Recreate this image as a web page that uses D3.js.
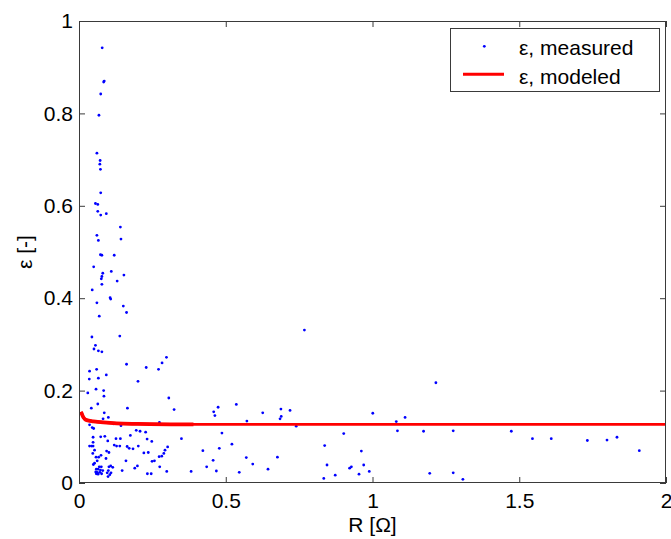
<!DOCTYPE html>
<html>
<head>
<meta charset="utf-8">
<script src="https://cdn.jsdelivr.net/npm/d3@7"></script>
<style>
  html, body { margin: 0; padding: 0; background: #fff; }
  svg { display: block; font-family: "Liberation Sans", Arial, sans-serif; }
</style>
</head>
<body>
<svg id="chart" width="671" height="539"></svg>
<script>
// ---------- data ----------
const measuredR = [
  0.079,0.086,0.084,0.074,0.068,0.061,0.072,0.071,0.073,
  0.074,0.056,0.064,0.064,0.074,0.093,0.141,0.061,0.066,0.143,0.073,0.078,0.120,0.050,0.081,0.110,0.153,0.078,0.076,0.130,0.078,0.045,0.106,0.108,0.061,0.151,0.162,0.069,
  0.044,0.139,0.056,0.051,0.066,0.078,0.298,0.283,0.162,0.229,0.271,0.060,0.036,0.093,0.035,0.066,0.201,0.058,0.084,0.030,0.306,0.085,0.064,0.042,0.165,0.324,0.086,0.100,0.082,0.274,0.118,0.143,0.036,0.045,0.050,0.195,0.208,0.227,0.175,0.074,0.048,0.088,0.126,0.141,0.232,0.098,0.248,0.048,0.139,0.120,0.036,0.043,0.048,0.128,0.164,0.202,0.302,0.171,0.184,0.053,0.094,0.293,0.289,0.047,0.221,0.236,0.102,0.282,0.273,0.075,0.058,0.067,0.092,0.062,0.257,0.249,0.160,0.049,0.053,0.069,0.076,0.108,0.102,0.115,0.199,0.190,0.275,0.059,0.065,0.073,0.081,0.100,0.147,0.057,0.062,0.071,0.096,0.109,0.077,0.105,0.059,0.299,0.233,0.246,0.099,0.065,
  0.474,0.459,0.463,0.536,0.626,0.688,0.719,0.689,0.685,0.572,0.740,0.768,0.349,0.487,0.521,0.478,0.422,0.457,0.435,0.468,0.382,0.546,0.570,0.592,0.676,0.644,0.837,0.902,0.845,0.873,0.834,0.962,0.922,0.928,0.970,0.954,0.989,1.001,1.081,1.111,1.085,
  1.216,1.174,1.275,1.473,1.545,1.609,1.732,1.799,1.833,1.909,1.195,1.275,1.308
];
const measuredEps = [
  0.942,0.870,0.868,0.842,0.796,0.714,0.698,0.690,0.679,
  0.628,0.605,0.603,0.588,0.580,0.583,0.554,0.536,0.525,0.528,0.494,0.493,0.493,0.468,0.454,0.458,0.450,0.447,0.442,0.437,0.430,0.418,0.401,0.398,0.390,0.383,0.369,0.361,
  0.316,0.318,0.298,0.290,0.286,0.284,0.272,0.260,0.257,0.250,0.246,0.246,0.242,0.234,0.225,0.227,0.220,0.203,0.200,0.195,0.184,0.188,0.171,0.162,0.162,0.159,0.152,0.142,0.139,0.131,0.128,0.124,0.126,0.120,0.118,0.114,0.112,0.110,0.103,0.100,0.099,0.101,0.096,0.096,0.095,0.091,0.090,0.088,0.080,0.082,0.080,0.080,0.080,0.080,0.079,0.080,0.078,0.075,0.074,0.071,0.069,0.071,0.064,0.064,0.065,0.066,0.066,0.058,0.057,0.060,0.056,0.056,0.053,0.048,0.048,0.047,0.048,0.040,0.043,0.035,0.035,0.037,0.035,0.034,0.037,0.032,0.035,0.030,0.030,0.028,0.027,0.027,0.027,0.024,0.023,0.023,0.022,0.022,0.020,0.018,0.020,0.025,0.020,0.020,0.014,0.019,
  0.164,0.154,0.146,0.170,0.152,0.160,0.157,0.144,0.139,0.134,0.123,0.331,0.096,0.108,0.084,0.075,0.070,0.049,0.035,0.026,0.025,0.023,0.055,0.041,0.056,0.030,0.081,0.107,0.039,0.017,0.010,0.069,0.032,0.035,0.039,0.019,0.025,0.151,0.133,0.142,0.113,
  0.217,0.112,0.113,0.112,0.096,0.096,0.092,0.093,0.099,0.070,0.021,0.022,0.008
];
const modeledR   = [0.007, 0.015, 0.026, 0.049, 0.083, 0.128, 0.2, 0.344, 0.39, 0.6, 1.0, 1.5, 2.0];
const modeledEps = [0.154, 0.142, 0.136, 0.1335, 0.131, 0.129, 0.128, 0.127, 0.127, 0.127, 0.127, 0.127, 0.127];
const xTicks = [0, 0.5, 1, 1.5, 2];
const yTicks = [0, 0.2, 0.4, 0.6, 0.8, 1];
const legendLabels = ["ε, measured", "ε, modeled"];

// ---------- layout ----------
const svg = d3.select("#chart");
const L = 79, R = 666, T = 21, B = 483;
const x = d3.scaleLinear().domain([0, 2]).range([L, R]);
const y = d3.scaleLinear().domain([0, 1]).range([B, T]);
const fontSize = 21;
const axisColor = "#3a3a3a";

svg.append("rect").attr("width", 671).attr("height", 539).attr("fill", "#fff");

// clip
svg.append("clipPath").attr("id", "clip")
  .append("rect").attr("x", L).attr("y", T).attr("width", R - L).attr("height", B - T);

const plot = svg.append("g").attr("clip-path", "url(#clip)");

// measured points
const pts = measuredR.map((r, i) => ({ r, e: measuredEps[i] }));
plot.selectAll("circle.m").data(pts).enter().append("circle")
  .attr("class", "m")
  .attr("cx", d => x(d.r)).attr("cy", d => y(d.e))
  .attr("r", 1.4).attr("fill", "#0000ff");

// modeled line
const mod = modeledR.map((r, i) => ({ r, e: modeledEps[i] }));
const line = d3.line().x(d => x(d.r)).y(d => y(d.e)).curve(d3.curveMonotoneX);
plot.append("path").datum(mod).attr("d", line)
  .attr("fill", "none").attr("stroke", "#ff0000").attr("stroke-width", 2.8);
plot.append("path").datum(mod.filter(d => d.r <= 0.39)).attr("d", line)
  .attr("fill", "none").attr("stroke", "#ff0000").attr("stroke-width", 3.8);

// axes (ticks inward on all sides)
const tickLen = 6;
const axB = svg.append("g").attr("transform", `translate(0,${B})`)
  .call(d3.axisBottom(x).tickValues(xTicks).tickSize(-tickLen).tickPadding(10).tickFormat(d3.format("")));
const axT = svg.append("g").attr("transform", `translate(0,${T})`)
  .call(d3.axisTop(x).tickValues(xTicks).tickSize(-tickLen).tickFormat(""));
const axL = svg.append("g").attr("transform", `translate(${L},0)`)
  .call(d3.axisLeft(y).tickValues(yTicks).tickSize(-tickLen).tickPadding(6).tickFormat(d3.format("")));
const axR = svg.append("g").attr("transform", `translate(${R},0)`)
  .call(d3.axisRight(y).tickValues(yTicks).tickSize(-tickLen).tickFormat(""));
[axB, axT, axL, axR].forEach(g => {
  g.select(".domain").remove();
  g.selectAll(".tick line").attr("stroke", axisColor);
  g.selectAll(".tick text").attr("fill", "#000").attr("font-size", fontSize)
    .attr("font-family", "'Liberation Sans', Arial, sans-serif");
});
axB.selectAll(".tick text").attr("dy", "0.71em");

// frame
svg.append("rect").attr("x", L + 0.5).attr("y", T + 0.5)
  .attr("width", R - L - 1).attr("height", B - T - 1)
  .attr("fill", "none").attr("stroke", axisColor).attr("stroke-width", 1);

// axis labels
svg.append("text").attr("x", (L + R) / 2).attr("y", 532)
  .attr("text-anchor", "middle").attr("font-size", fontSize).attr("fill", "#000")
  .text("R [Ω]");
svg.append("text").attr("transform", `translate(32,${(T + B) / 2}) rotate(-90)`)
  .attr("text-anchor", "middle").attr("font-size", fontSize).attr("fill", "#000")
  .text("ε [-]");

// legend
const lg = svg.append("g");
lg.append("rect").attr("x", 450.5).attr("y", 28.5).attr("width", 209).attr("height", 63)
  .attr("fill", "#fff").attr("stroke", axisColor).attr("stroke-width", 1);
lg.append("circle").attr("cx", 484.3).attr("cy", 46.3).attr("r", 1.4).attr("fill", "#0000ff");
lg.append("line").attr("x1", 463).attr("x2", 504).attr("y1", 74.3).attr("y2", 74.3)
  .attr("stroke", "#ff0000").attr("stroke-width", 3);
lg.selectAll("text.lt").data(legendLabels).enter().append("text")
  .attr("class", "lt")
  .attr("x", 519).attr("y", (d, i) => 55 + i * 28.5)
  .attr("font-size", fontSize).attr("fill", "#000")
  .text(d => d);
</script>
</body>
</html>
